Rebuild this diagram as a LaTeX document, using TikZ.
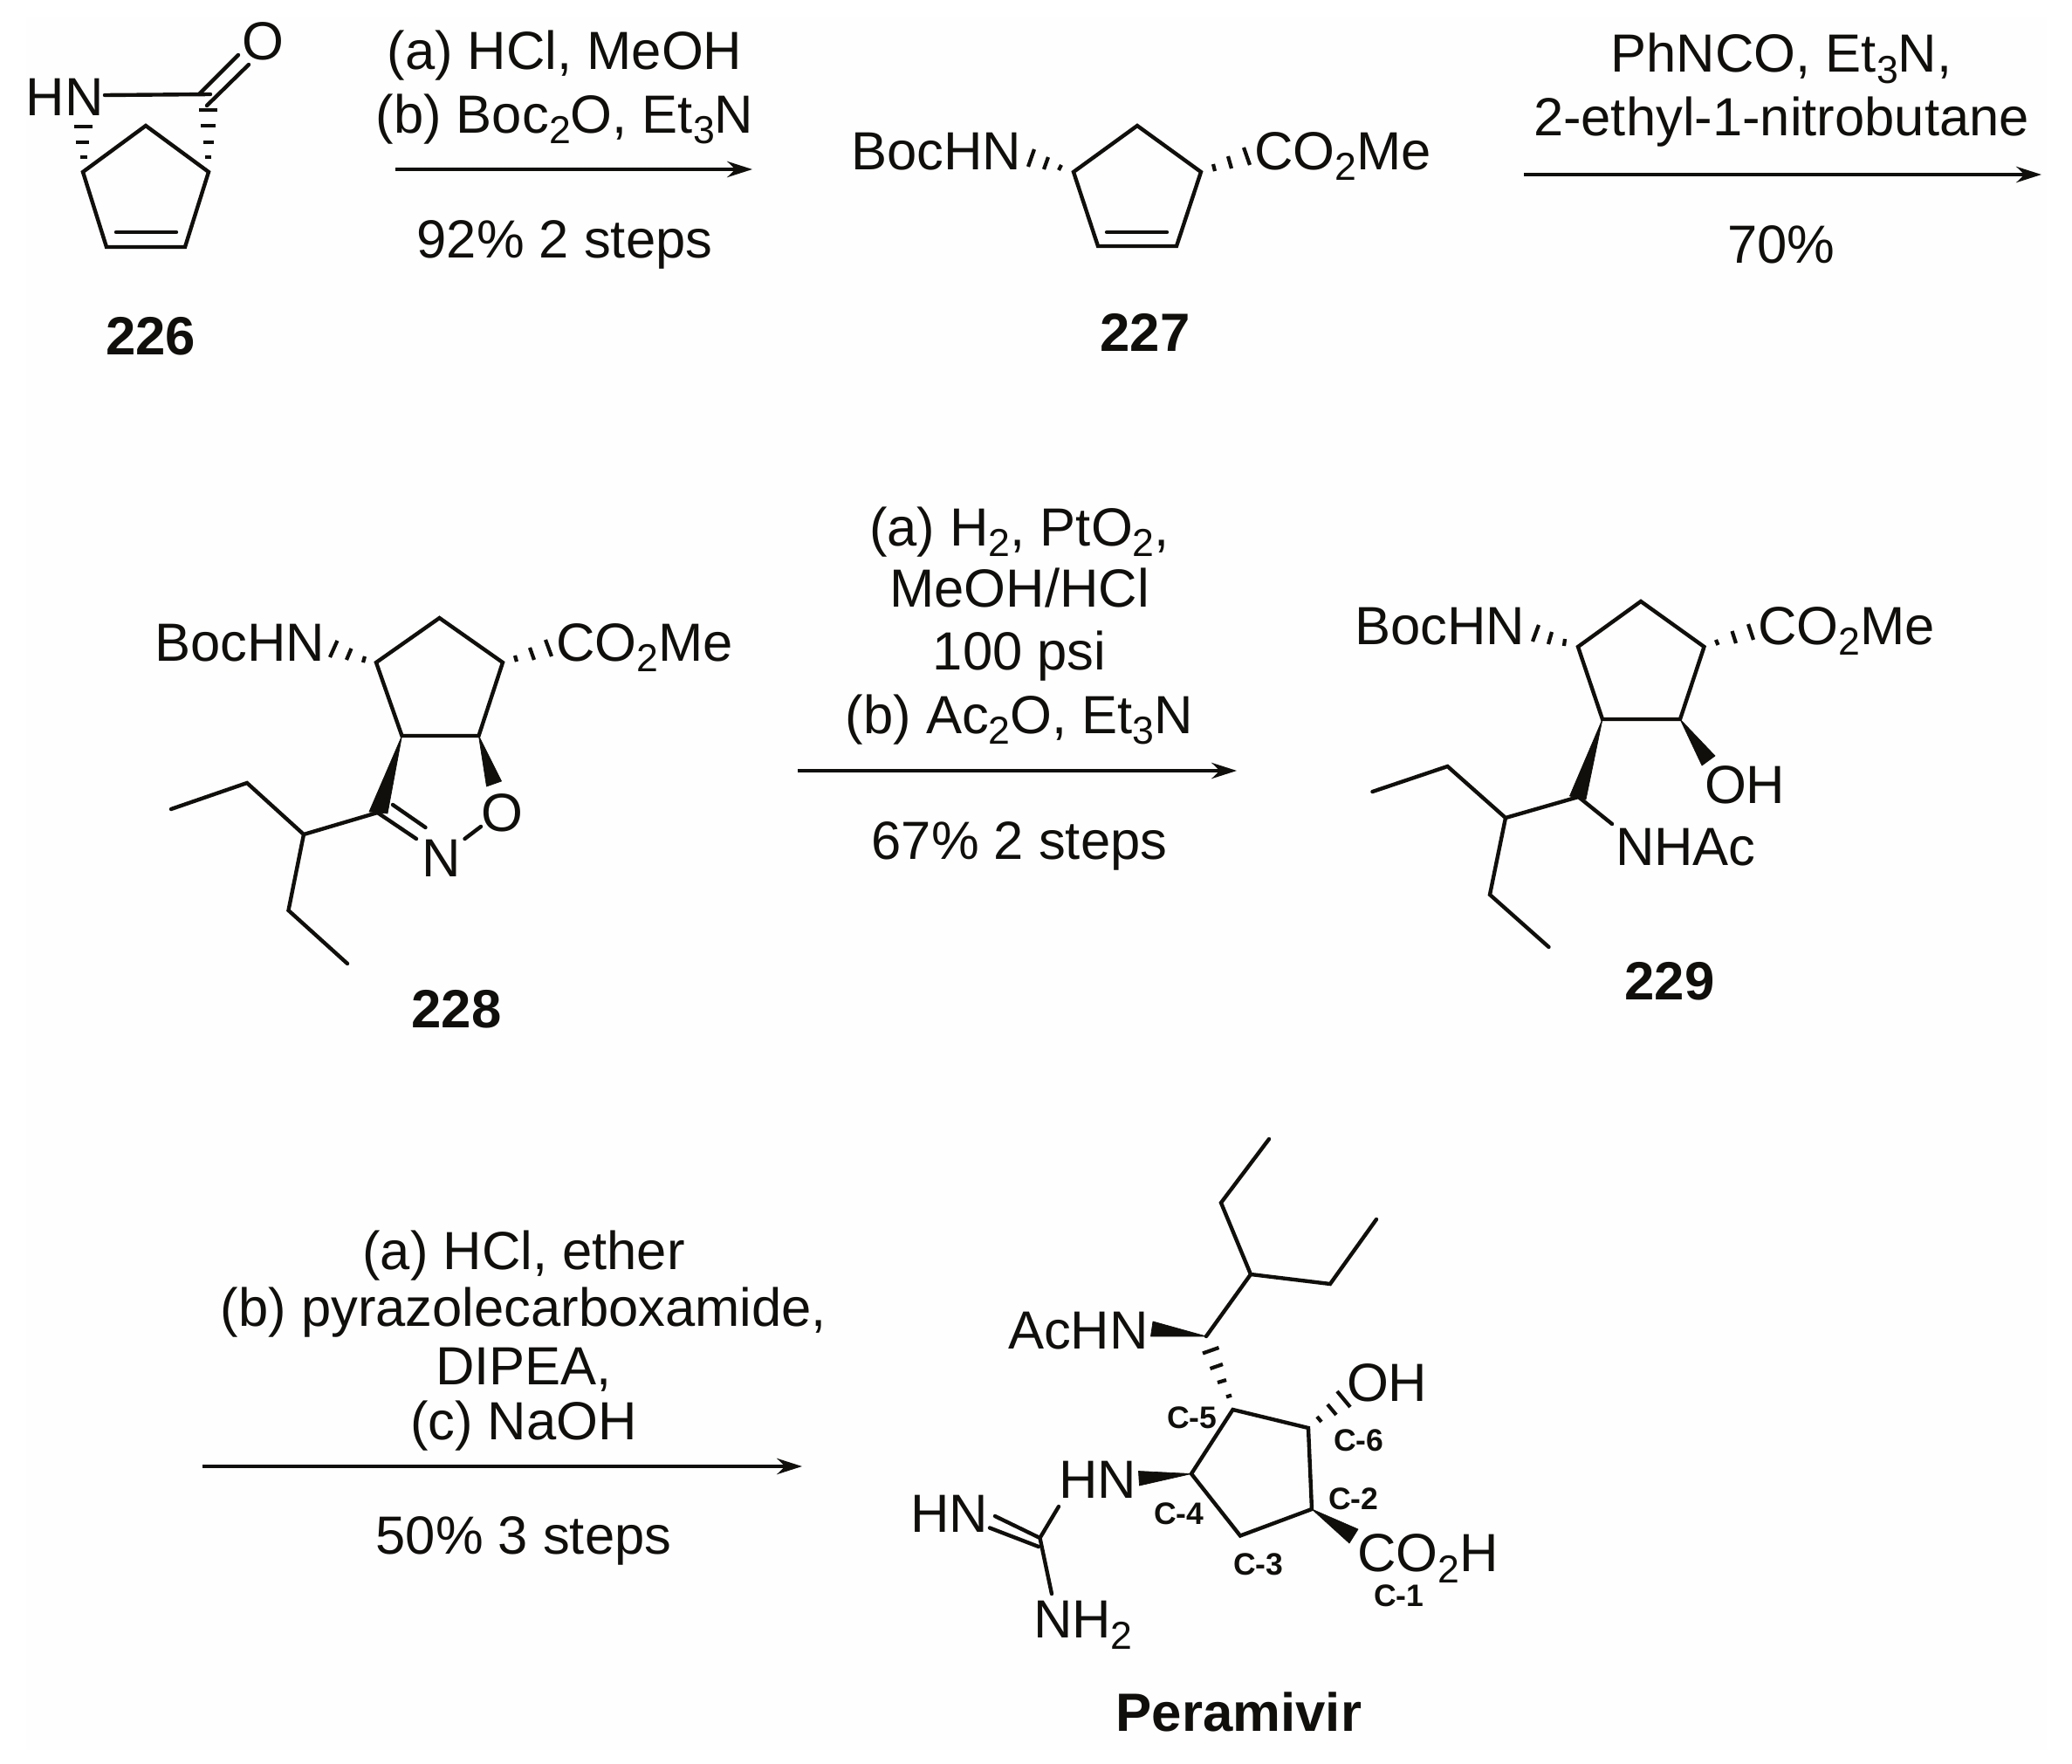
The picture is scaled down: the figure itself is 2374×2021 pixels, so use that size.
\documentclass[tikz,border=0pt]{standalone}
\usepackage{fontspec}
\setmainfont{Liberation Sans}
\usetikzlibrary{arrows.meta}
\definecolor{ink}{HTML}{100F0C}
\newcommand{\subn}[1]{\raisebox{-3.6pt}{\fontsize{12.7}{12.7}\selectfont #1}}
\tikzset{
  x=0.01cm,y=-0.01cm,
  lbl/.style={inner sep=0,outer sep=0,anchor=base west,text=ink,font=\fontsize{17.5}{20}\selectfont},
  rgt/.style={inner sep=0,outer sep=0,anchor=base,text=ink,font=\fontsize{17.5}{20}\selectfont},
  num/.style={inner sep=0,outer sep=0,anchor=base,text=ink,font=\fontsize{17.55}{20}\selectfont\bfseries},
  clab/.style={inner sep=0,outer sep=0,anchor=base west,text=ink,font=\fontsize{10.1}{11}\selectfont\bfseries},
  bond/.style={draw=ink,line width=1.25pt,line join=miter,line cap=round},
  hash/.style={draw=ink,line width=1.2pt},
  wedge/.style={fill=ink,draw=ink,line width=0.2pt,line join=round},
  rxn/.style={draw=ink,line width=0.95pt,-{Stealth[length=8.2pt,width=5.2pt]}}
}
\begin{document}
\begin{tikzpicture}
\useasboundingbox (0,0) rectangle (2374,2021);
\fill[white] (0,0) rectangle (2374,2021);
\fill[black!0.4] (30,20) rectangle (2345,2005);

% ---------- 226
\coordinate (a1) at (95,197);
\coordinate (a2) at (167,144);
\coordinate (a3) at (239,197);
\coordinate (a4) at (212,283);
\coordinate (a5) at (122,283);
\coordinate (a6) at (133,266);
\coordinate (a7) at (202,266);
\coordinate (a8) at (120,109);
\coordinate (a9) at (241,108);
\coordinate (a10) at (228,108);
\coordinate (a11) at (273,63);
\coordinate (a12) at (237,121);
\coordinate (a13) at (285,74);
\draw[bond] (a1) -- (a2) -- (a3) -- (a4) -- (a5) -- cycle;
\draw[bond] (a6) -- (a7);
\draw[bond] (a8) -- (a9);
\draw[bond] (a10) -- (a11);
\draw[bond] (a12) -- (a13);
\draw[hash] (85,145)--(106,145) (87,163)--(102,163) (92,180)--(100,180);
\draw[hash] (228,126)--(249,126) (230,144)--(247,144) (233,163)--(245,163) (235,180)--(242,180);
\node[lbl] (t226hn) at (30,132) {HN};
\node[rgt] (t226o) at (301,68) {O};
\node[num] (n226) at (172.5,406) {226};

% ---------- reaction 1
\node[rgt] (r1a) at (647,80) {(a) HCl, MeOH};
\node[rgt] (r1b) at (647,152) {(b) Boc\subn{2}O, Et\subn{3}N};
\node[rgt] (r1c) at (647,295) {92\% 2 steps};
\coordinate (r1s) at (453,194);
\coordinate (r1e) at (862,194);
\draw[rxn] (r1s) -- (r1e);

% ---------- 227
\coordinate (b1) at (1230,197);
\coordinate (b2) at (1303,144);
\coordinate (b3) at (1376,197);
\coordinate (b4) at (1348,282);
\coordinate (b5) at (1258,282);
\coordinate (b6) at (1268,266);
\coordinate (b7) at (1337,266);
\draw[bond] (b1) -- (b2) -- (b3) -- (b4) -- (b5) -- cycle;
\draw[bond] (b6) -- (b7);
\draw[hash] (1213,195)--(1216,189) (1196,194)--(1201,180) (1178,191)--(1185,171);
\draw[hash] (1392,196)--(1390,188) (1411,193)--(1407,179) (1432,189)--(1425,169);
\node[lbl] (t227b) at (975,194) {BocHN};
\node[lbl] (t227c) at (1437,194) {CO\subn{2}Me};
\node[num] (n227) at (1312,402) {227};

% ---------- reaction 2
\node[rgt] (r2a) at (2041,83) {PhNCO, Et\subn{3}N,};
\node[rgt] (r2b) at (2041,156) {2-ethyl-1-nitrobutane};
\node[rgt] (r2c) at (2041,301) {70\%};
\coordinate (r2s) at (1746,200);
\coordinate (r2e) at (2339,200);
\draw[rxn] (r2s) -- (r2e);

% ---------- 228
\coordinate (c1) at (431,759);
\coordinate (c2) at (503.5,708);
\coordinate (c3) at (576,759);
\coordinate (c4) at (548.5,843);
\coordinate (c5) at (460.5,843);
\coordinate (c6) at (432.5,931);
\coordinate (c7) at (196,927);
\coordinate (c8) at (283,897);
\coordinate (c9) at (348,956);
\coordinate (c10) at (330.5,1043);
\coordinate (c11) at (398,1104);
\coordinate (c12) at (477,961);
\coordinate (c13) at (450,922);
\coordinate (c14) at (487.5,948);
\coordinate (c15) at (532.5,961);
\coordinate (c16) at (551,947);
\coordinate (c17) at (423,930);
\coordinate (c18) at (444,932);
\coordinate (c19) at (557.5,901);
\coordinate (c20) at (574.5,895);
\draw[bond] (c1) -- (c2) -- (c3) -- (c4) -- (c5) -- cycle;
\draw[wedge] (c5) -- (c17) -- (c18) -- cycle;
\draw[wedge] (c4) -- (c19) -- (c20) -- cycle;
\draw[bond] (c7) -- (c8) -- (c9) -- (c6);
\draw[bond] (c9) -- (c10) -- (c11);
\draw[bond] (c6) -- (c12);
\draw[bond] (c13) -- (c14);
\draw[bond] (c15) -- (c16);
\draw[hash] (416,759)--(418,752) (397,756)--(402.5,743) (378,753)--(386.5,734);
\draw[hash] (592,758)--(590,751) (612,756)--(607,742) (632,752)--(625,733);
\node[lbl] (t228b) at (177,757) {BocHN};
\node[lbl] (t228c) at (637,757) {CO\subn{2}Me};
\node[rgt] (t228n) at (506,1004) {N};
\node[rgt] (t228o) at (575.5,952) {O};
\node[num] (n228) at (523,1177) {228};

% ---------- reaction 3
\node[rgt] (r3a) at (1168,625) {(a) H\subn{2}, PtO\subn{2},};
\node[rgt] (r3b) at (1168,695) {MeOH/HCl};
\node[rgt] (r3c) at (1168,767) {100 psi};
\node[rgt] (r3d) at (1168,840) {(b) Ac\subn{2}O, Et\subn{3}N};
\node[rgt] (r3e) at (1168,984) {67\% 2 steps};
\coordinate (r3s) at (914,883);
\coordinate (r3f) at (1417,883);
\draw[rxn] (r3s) -- (r3f);

% ---------- 229
\coordinate (d1) at (1808,741);
\coordinate (d2) at (1880,689);
\coordinate (d3) at (1952.5,741);
\coordinate (d4) at (1925,824);
\coordinate (d5) at (1836,824);
\coordinate (d6) at (1808.5,913);
\coordinate (d7) at (1572.5,907);
\coordinate (d8) at (1658.5,878);
\coordinate (d9) at (1725,937);
\coordinate (d10) at (1707,1025);
\coordinate (d11) at (1774.5,1085);
\coordinate (d12) at (1847,944);
\coordinate (d13) at (1798.5,912);
\coordinate (d14) at (1817,916);
\coordinate (d15) at (1950,877);
\coordinate (d16) at (1965,866);
\draw[bond] (d1) -- (d2) -- (d3) -- (d4) -- (d5) -- cycle;
\draw[wedge] (d5) -- (d13) -- (d14) -- cycle;
\draw[wedge] (d4) -- (d15) -- (d16) -- cycle;
\draw[bond] (d7) -- (d8) -- (d9) -- (d6) -- (d12);
\draw[bond] (d9) -- (d10) -- (d11);
\draw[hash] (1792,740)--(1793,732) (1774,738)--(1778,724) (1756,735)--(1763,716);
\draw[hash] (1968.5,739)--(1966,733) (1989,737)--(1984.5,723) (2009,733)--(2003,715);
\node[lbl] (t229b) at (1552,738) {BocHN};
\node[lbl] (t229c) at (2014,738) {CO\subn{2}Me};
\node[lbl] (t229o) at (1953,920) {OH};
\node[lbl] (t229n) at (1851,991) {NHAc};
\node[num] (n229) at (1913,1145) {229};

% ---------- reaction 4
\node[rgt] (r4a) at (600,1454) {(a) HCl, ether};
\node[rgt] (r4b) at (600,1519) {(b) pyrazolecarboxamide,};
\node[rgt] (r4c) at (600,1586) {DIPEA,};
\node[rgt] (r4d) at (600,1649) {(c) NaOH};
\node[rgt] (r4e) at (600,1780) {50\% 3 steps};
\coordinate (r4s) at (232,1680);
\coordinate (r4f) at (919,1680);
\draw[rxn] (r4s) -- (r4f);

% ---------- Peramivir
\coordinate (e1) at (1454,1305);
\coordinate (e2) at (1399,1378);
\coordinate (e3) at (1433,1460);
\coordinate (e4) at (1524,1471);
\coordinate (e5) at (1577,1397);
\coordinate (e6) at (1382,1531);
\coordinate (e7) at (1321,1514);
\coordinate (e8) at (1318.5,1531);
\coordinate (c-5) at (1412.5,1615);
\coordinate (c-6) at (1499,1636);
\coordinate (c-2) at (1503,1729);
\coordinate (c-3) at (1421,1759.5);
\coordinate (c-4) at (1365,1688.5);
\coordinate (e9) at (1304.5,1685.5);
\coordinate (e10) at (1305.5,1702);
\coordinate (e11) at (1191.5,1762);
\coordinate (e12) at (1213,1726);
\coordinate (e13) at (1140,1737);
\coordinate (e14) at (1134,1750.5);
\coordinate (e15) at (1190,1772);
\coordinate (e16) at (1205,1826);
\coordinate (e17) at (1556,1752);
\coordinate (e18) at (1546,1768);
\draw[bond] (e1) -- (e2) -- (e3) -- (e4) -- (e5);
\draw[bond] (e3) -- (e6);
\draw[wedge] (e6) -- (e7) -- (e8) -- cycle;
\draw[hash] (1378,1550.5)--(1396.5,1544) (1386.5,1568)--(1401,1563) (1395,1584)--(1405,1581) (1405,1600.5)--(1411,1598.5);
\draw[bond] (c-5) -- (c-6) -- (c-2) -- (c-3) -- (c-4) -- cycle;
\draw[wedge] (c-4) -- (e9) -- (e10) -- cycle;
\draw[wedge] (c-2) -- (e17) -- (e18) -- cycle;
\draw[bond] (e12) -- (e11) -- (e16);
\draw[bond] (e11) -- (e13);
\draw[bond] (e14) -- (e15);
\draw[hash] (1509,1623)--(1514,1629) (1521,1609)--(1531,1621) (1532,1594)--(1547,1612);
\node[lbl] (tach) at (1155,1545.5) {AcHN};
\node[lbl] (toh) at (1543,1605) {OH};
\node[lbl] (thn1) at (1213,1716.5) {HN};
\node[lbl] (thn2) at (1043,1755.5) {HN};
\node[lbl] (tnh2) at (1184,1876.5) {NH\subn{2}};
\node[lbl] (tco2h) at (1555,1800.5) {CO\subn{2}H};
\node[clab] (l5) at (1337,1636) {C-5};
\node[clab] (l6) at (1528,1662) {C-6};
\node[clab] (l2) at (1522,1729.5) {C-2};
\node[clab] (l4) at (1322,1746.5) {C-4};
\node[clab] (l3) at (1413,1804.5) {C-3};
\node[clab] (l1) at (1574,1840) {C-1};
\node[num] (nper) at (1419.5,1983) {Peramivir};
\end{tikzpicture}
\end{document}
